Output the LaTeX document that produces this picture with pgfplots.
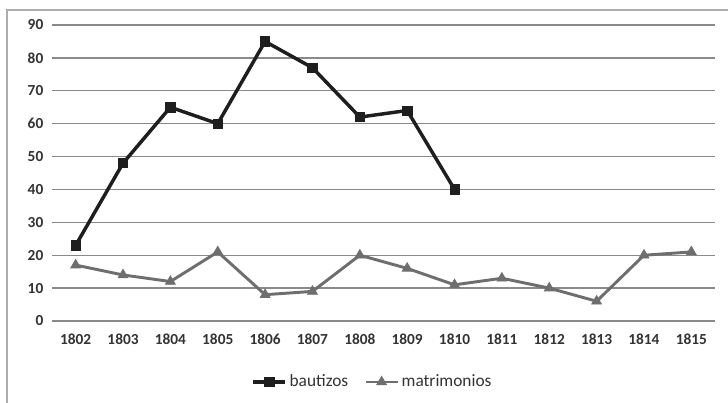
\documentclass[border=0pt]{standalone}
\usepackage{fontspec}
\setmainfont{Carlito}
\usepackage{pgfplots}
\pgfplotsset{compat=1.18}

\definecolor{txt}{HTML}{333333}
\definecolor{bau}{HTML}{1E1E1E}
\definecolor{mat}{HTML}{6E6E6E}
\definecolor{grd}{HTML}{8A8A8A}

\begin{document}
\begin{tikzpicture}
	% page = 728 x 403 px, 1px = 0.75pt
	\useasboundingbox (0pt,0pt) rectangle (546pt,302.25pt);
	% outer frame (only left and top edges are visible)
	\draw[grd!70, line width=0.8pt] (5.25pt,-15pt) -- (5.25pt,294.75pt) -- (570pt,294.75pt);

	\begin{axis}[
		at={(39pt,61.5pt)}, anchor=south west,
		scale only axis,
		width=497.25pt, height=222pt,
		xmin=-0.5, xmax=13.5,
		ymin=0, ymax=90,
		xtick={0,...,13},
		xticklabels={1802,1803,1804,1805,1806,1807,1808,1809,1810,1811,1812,1813,1814,1815},
		ytick={0,10,...,90},
		/pgf/number format/assume math mode=true,
		ticklabel style={font=\fontsize{11.5}{13}\selectfont\bfseries, text=txt},
		xticklabel style={yshift=-6pt},
		yticklabel style={xshift=-3pt},
		major tick length=0pt,
		axis line style={draw=none},
		ymajorgrids,
		grid style={grd, line width=1pt},
		legend style={at={(0.484,-0.206)}, anchor=center, draw=none,
			font=\fontsize{13}{15}\selectfont, text=txt,
			legend columns=2, /tikz/every even column/.append style={column sep=10pt}},
		legend image code/.code={
			\draw[mark repeat=2,mark phase=2] plot coordinates {(0cm,0cm) (0.42cm,0cm) (0.84cm,0cm)};},
		legend cell align=left,
		clip=false,
		]
		\addplot[bau, line width=2.6pt, mark=square*, mark size=3.5pt,
			mark options={solid, fill=bau, draw=bau, line width=0.5pt}]
		coordinates {
			(0,23) (1,48) (2,65) (3,60) (4,85) (5,77) (6,62) (7,64) (8,40)
		};
		\addlegendentry{bautizos}
		\addplot[mat, line width=2.2pt, mark=triangle*, mark size=4.3pt,
			mark options={solid, fill=mat, draw=mat, line width=0.5pt}]
		coordinates {
			(0,17) (1,14) (2,12) (3,21) (4,8) (5,9) (6,20) (7,16) (8,11)
			(9,13) (10,10) (11,6) (12,20) (13,21)
		};
		\addlegendentry{matrimonios}
	\end{axis}
\end{tikzpicture}
\end{document}
